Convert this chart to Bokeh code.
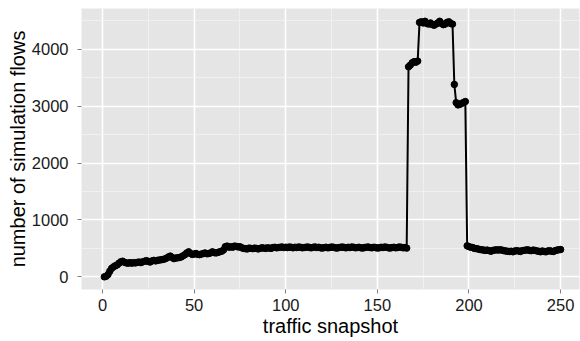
from bokeh.plotting import figure
from bokeh.models import Range1d, FixedTicker
from bokeh.embed import file_html
from bokeh.resources import INLINE

snapshot = list(range(1, 251))

flows = [
    0, 10, 40, 100, 150, 175, 195, 210, 240, 265,
    275, 255, 245, 240, 250, 240, 250, 245, 255, 260,
    250, 265, 275, 285, 270, 260, 280, 290, 280, 290,
    295, 300, 305, 315, 330, 350, 365, 340, 320, 330,
    335, 340, 350, 370, 390, 420, 440, 410, 395, 400,
    410, 395, 390, 400, 410, 420, 405, 410, 420, 440,
    425, 420, 430, 440, 450, 470, 530, 540, 520, 530,
    520, 540, 535, 525, 530, 510, 500, 495, 490, 505,
    500, 495, 505, 500, 490, 500, 510, 505, 500, 510,
    505, 500, 515, 520, 510, 515, 520, 525, 515, 520,
    515, 525, 520, 510, 520, 515, 525, 520, 510, 515,
    520, 525, 515, 510, 520, 525, 515, 520, 510, 505,
    515, 520, 510, 515, 525, 520, 510, 505, 515, 520,
    525, 515, 510, 520, 515, 525, 520, 510, 515, 520,
    510, 505, 515, 520, 525, 515, 510, 520, 515, 505,
    510, 520, 515, 525, 520, 510, 505, 515, 520, 510,
    515, 525, 520, 510, 515, 505,
    3690, 3720, 3760, 3780, 3770, 3790,
    4470, 4480, 4460, 4490, 4450, 4440, 4460, 4430, 4420, 4440,
    4460, 4490, 4450, 4430, 4440, 4470, 4480, 4450, 4440,
    3380, 3060, 3020, 3030, 3050, 3060, 3080,
    545, 530, 520, 515, 500, 495, 490, 480, 475, 470,
    465, 470, 460, 450, 465, 470, 475, 470, 475, 470,
    460, 455, 450, 445, 450, 440, 455, 460, 455, 445,
    460, 465, 470, 475, 465, 460, 470, 465, 455, 450,
    440, 455, 445, 440, 455, 460, 450, 445, 460, 470,
    475, 480,
]

x_ticks = [0, 50, 100, 150, 200, 250]
x_minor = [25, 75, 125, 175, 225]
y_ticks = [0, 1000, 2000, 3000, 4000]
y_minor = [500, 1500, 2500, 3500, 4500]

FONT = "Liberation Sans"

p = figure(width=580, height=341, output_backend="svg", toolbar_location=None,
           x_range=Range1d(-11.45, 260.3), y_range=Range1d(-222, 4714),
           min_border_left=81, min_border_right=1, min_border_top=8,
           min_border_bottom=52)
p.background_fill_color = "#e5e5e5"
p.border_fill_color = "white"
p.outline_line_color = None

xt = FixedTicker(ticks=x_ticks, minor_ticks=x_minor)
yt = FixedTicker(ticks=y_ticks, minor_ticks=y_minor)
p.xaxis.ticker = xt
p.yaxis.ticker = yt
p.xgrid.ticker = xt
p.ygrid.ticker = yt

for g in (p.xgrid, p.ygrid):
    g.grid_line_color = "white"
    g.grid_line_width = 1.6
    g.minor_grid_line_color = "#f2f2f2"
    g.minor_grid_line_width = 0.8

for ax in (p.xaxis, p.yaxis):
    ax.axis_line_color = None
    ax.major_tick_in = 0
    ax.major_tick_out = 4
    ax.major_tick_line_color = "#7f7f7f"
    ax.major_tick_line_width = 1
    ax.minor_tick_line_color = None
    ax.major_label_text_font = FONT
    ax.major_label_text_font_size = "16.5px"
    ax.major_label_text_color = "#1a1a1a"
    ax.axis_label_text_font = FONT
    ax.axis_label_text_font_size = "20px"
    ax.axis_label_text_font_style = "normal"
    ax.axis_label_text_color = "#000000"

p.xaxis.axis_label = "traffic snapshot"
p.yaxis.axis_label = "number of simulation flows"
p.xaxis.major_label_standoff = 5
p.xaxis.axis_label_standoff = 1
p.yaxis.major_label_standoff = 9
p.yaxis.axis_label_standoff = 0

p.line(snapshot, flows, line_color="black", line_width=2)
p.scatter(snapshot, flows, size=6.5, fill_color="black", line_color="black")

open("out.html", "w").write(file_html(p, INLINE))
